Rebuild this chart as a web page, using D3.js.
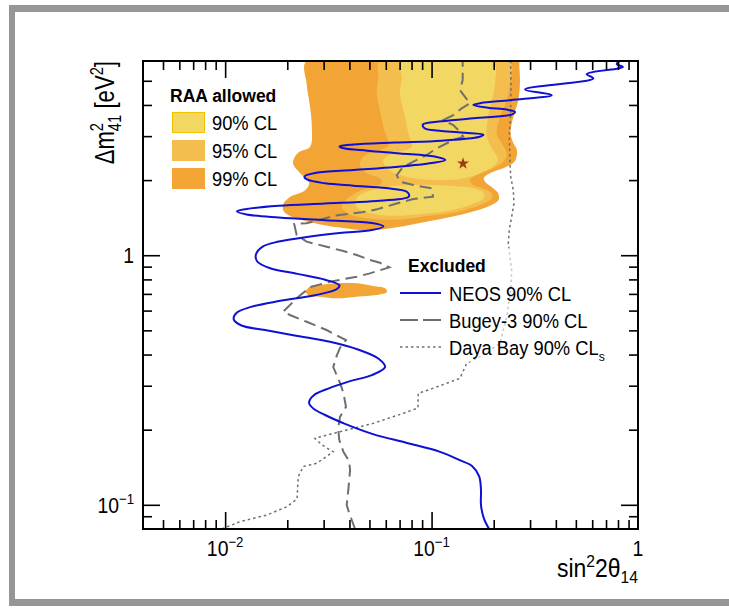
<!DOCTYPE html>
<html><head><meta charset="utf-8">
<script src="https://cdn.jsdelivr.net/npm/d3@7"></script>
<style>
html,body{margin:0;padding:0;background:#fff;}
svg{display:block;}
text{font-family:"Liberation Sans",Arial,Helvetica,sans-serif;fill:#000;}
</style></head><body>
<svg id="chart" width="729" height="610"></svg>
<script>
// ---------------- data (sin^2 2theta14, dm^2_41 [eV^2]) ----------------
const neos = [[0.190,0.080],[0.179,0.0885],[0.1735,0.0998],[0.1735,0.1146],[0.170,0.130],[0.157,0.143],[0.137,0.151],[0.110,0.163],[0.076,0.177],[0.052,0.192],[0.0381,0.211],[0.0305,0.229],[0.0266,0.244],[0.0255,0.2565],[0.0269,0.275],[0.0322,0.294],[0.0403,0.313],[0.0514,0.331],[0.0595,0.3565],[0.0556,0.384],[0.0440,0.419],[0.0322,0.450],[0.0224,0.475],[0.0156,0.5015],[0.0120,0.523],[0.0110,0.554],[0.0114,0.589],[0.01335,0.621],[0.0182,0.655],[0.0276,0.693],[0.0348,0.732],[0.0358,0.757],[0.0305,0.798],[0.0224,0.842],[0.0164,0.889],[0.0143,0.944],[0.0141,1.007],[0.0152,1.083],[0.0182,1.134],[0.0249,1.184],[0.0358,1.228],[0.0514,1.262],[0.0585,1.305],[0.0514,1.346],[0.0305,1.381],[0.0182,1.416],[0.0127,1.457],[0.0114,1.499],[0.0127,1.532],[0.0182,1.577],[0.0305,1.611],[0.0514,1.646],[0.0777,1.719],[0.0759,1.795],[0.0601,1.859],[0.0418,1.900],[0.0305,1.941],[0.0249,2.012],[0.0242,2.063],[0.0276,2.138],[0.0418,2.195],[0.0665,2.257],[0.1005,2.341],[0.1167,2.407],[0.1035,2.486],[0.0702,2.558],[0.0488,2.622],[0.0376,2.681],[0.0358,2.728],[0.0418,2.776],[0.0665,2.828],[0.1119,2.878],[0.1693,2.975],[0.1785,3.036],[0.1452,3.092],[0.1119,3.146],[0.0924,3.226],[0.0909,3.344],[0.1119,3.441],[0.1693,3.554],[0.2436,3.657],[0.2536,3.753],[0.2311,3.833],[0.1876,3.901],[0.1592,3.999],[0.1735,4.070],[0.2436,4.184],[0.382,4.381],[0.2836,4.617],[0.6075,5.109],[0.5643,5.316],[0.803,5.603],[0.846,5.677],[0.7885,5.836],[0.818,6.0]];

const bugey3 = [[0.0426,0.080],[0.0399,0.0927],[0.0388,0.0998],[0.0395,0.1146],[0.0403,0.138],[0.0398,0.150],[0.0374,0.163],[0.0357,0.182],[0.0353,0.203],[0.0360,0.225],[0.0385,0.247],[0.0374,0.281],[0.0360,0.308],[0.0334,0.3565],[0.0348,0.398],[0.0360,0.425],[0.0385,0.457],[0.0310,0.5015],[0.0248,0.5415],[0.0206,0.576],[0.0191,0.594],[0.0202,0.622],[0.0222,0.672],[0.0258,0.746],[0.0322,0.783],[0.0434,0.820],[0.0503,0.846],[0.0624,0.894],[0.0562,0.933],[0.0503,0.957],[0.0434,1.002],[0.0374,1.039],[0.0310,1.082],[0.0248,1.133],[0.0222,1.205],[0.0216,1.334],[0.0248,1.343],[0.0341,1.440],[0.0460,1.486],[0.0544,1.527],[0.0665,1.604],[0.0815,1.679],[0.1016,1.715],[0.1001,1.853],[0.0816,1.911],[0.0703,1.970],[0.0678,2.095],[0.0730,2.263],[0.0816,2.370],[0.0947,2.521],[0.1059,2.681],[0.1274,2.894],[0.1424,2.983],[0.1373,3.123],[0.1274,3.322],[0.1140,3.479],[0.1274,3.643],[0.1399,3.876],[0.1535,4.059],[0.1452,4.313],[0.1373,4.587],[0.1415,5.03],[0.1415,6.0]];

const dayaBay = [[0.00965,0.080],[0.0118,0.0856],[0.0159,0.0910],[0.0199,0.0982],[0.0223,0.1055],[0.0226,0.1296],[0.0239,0.1424],[0.0278,0.1467],[0.0334,0.1632],[0.0295,0.1736],[0.0272,0.1847],[0.0360,0.1963],[0.0522,0.212],[0.0730,0.2326],[0.0859,0.2443],[0.0862,0.2798],[0.0994,0.291],[0.1373,0.3212],[0.1480,0.369],[0.1780,0.398],[0.2145,0.444],[0.2311,0.567],[0.2417,0.725],[0.2444,0.872],[0.2398,0.986],[0.2353,1.117],[0.2379,1.262],[0.2444,1.427],[0.2508,1.614],[0.2488,1.825],[0.2417,2.063],[0.2398,2.335],[0.2379,2.983],[0.2412,3.587],[0.2425,4.587],[0.2417,6.0]];

const cl99 = [[0.0248,6.0],[0.0248,4.89],[0.0258,3.92],[0.0263,3.26],[0.0258,2.72],[0.0225,2.57],[0.0213,2.34],[0.0231,2.13],[0.0255,1.95],[0.0244,1.82],[0.0206,1.71],[0.0191,1.60],[0.0192,1.50],[0.0213,1.42],[0.0266,1.35],[0.0360,1.29],[0.0503,1.256],[0.0665,1.29],[0.0983,1.37],[0.142,1.46],[0.1856,1.56],[0.211,1.664],[0.210,1.775],[0.198,1.86],[0.1835,1.95],[0.179,2.04],[0.192,2.13],[0.231,2.26],[0.2536,2.385],[0.259,2.64],[0.2488,2.815],[0.2412,3.086],[0.2488,3.58],[0.263,4.18],[0.268,4.89],[0.266,5.68],[0.263,6.0]];

const cl99Island = [[0.0248,0.725],[0.0258,0.749],[0.0288,0.760],[0.0347,0.772],[0.0434,0.772],[0.0522,0.753],[0.0595,0.737],[0.0608,0.712],[0.0542,0.693],[0.0434,0.682],[0.0347,0.672],[0.0288,0.682],[0.0253,0.693],[0.0245,0.712]];

const cl95 = [[0.0562,6.0],[0.0552,5.17],[0.0542,4.46],[0.0562,3.815],[0.0584,3.26],[0.0617,2.76],[0.0562,2.64],[0.0467,2.48],[0.0450,2.30],[0.0485,2.13],[0.0562,2.03],[0.0575,1.95],[0.0460,1.825],[0.0389,1.68],[0.0368,1.56],[0.0403,1.46],[0.0514,1.40],[0.0703,1.39],[0.0912,1.43],[0.1323,1.49],[0.1716,1.59],[0.1955,1.69],[0.1955,1.77],[0.178,1.85],[0.159,1.91],[0.1535,2.00],[0.1654,2.095],[0.199,2.23],[0.2225,2.37],[0.231,2.56],[0.2186,2.81],[0.2067,3.08],[0.2145,3.59],[0.231,4.18],[0.2398,4.88],[0.2398,6.0]];

const cl90Upper = [[0.0703,6.0],[0.0717,5.17],[0.0703,4.46],[0.0744,3.58],[0.0771,3.09],[0.0801,2.72],[0.0653,2.56],[0.0584,2.41],[0.0606,2.23],[0.0703,2.095],[0.0879,2.02],[0.1188,2.00],[0.1452,2.04],[0.1716,2.13],[0.198,2.26],[0.210,2.41],[0.198,2.64],[0.1856,2.975],[0.1876,3.58],[0.203,4.89],[0.198,6.0]];

const cl90Lower = [[0.0665,1.90],[0.0514,1.825],[0.0435,1.70],[0.0430,1.575],[0.0481,1.49],[0.0629,1.44],[0.0879,1.46],[0.1228,1.51],[0.157,1.60],[0.179,1.695],[0.1775,1.79],[0.157,1.86],[0.1298,1.89],[0.0983,1.91]];

const bestFit = [[0.142, 2.33]];

const xMajorTicks = [0.01, 0.1, 1];
const xMinorTicks = [0.005,0.006,0.007,0.008,0.009,0.02,0.03,0.04,0.05,0.06,0.07,0.08,0.09,0.2,0.3,0.4,0.5,0.6,0.7,0.8,0.9];
const yMajorTicks = [0.1, 1];
const yMinorTicks = [0.09,0.2,0.3,0.4,0.5,0.6,0.7,0.8,0.9,2,3,4,5];
const xTickLabels = [["10","\u22122"],["10","\u22121"],["1",""]];
const yTickLabels = [["10","\u22121"],["1",""]];
const raaLabels = ["90% CL","95% CL","99% CL"];
const excludedLabels = [["NEOS 90% CL",""],["Bugey-3 90% CL",""],["Daya Bay 90% CL","s"]];

// ---------------- drawing ----------------
const W = 729, H = 610;
const C90 = "#f2d863", C95 = "#f3be4e", C99 = "#f2a534";
const svg = d3.select("#chart");
const x = d3.scaleLog().domain([0.004, 1]).range([143, 638]);
const y = d3.scaleLog().domain([0.08, 6]).range([529, 61]);

svg.append("rect").attr("width", W).attr("height", H).attr("fill", "#fff");
const border = svg.append("g").attr("fill", "#969696");
border.append("rect").attr("x", 9).attr("y", 5).attr("width", 720).attr("height", 7);
border.append("rect").attr("x", 9).attr("y", 5).attr("width", 6).attr("height", 601);
border.append("rect").attr("x", 9).attr("y", 599).attr("width", 720).attr("height", 7);

svg.append("clipPath").attr("id", "clip").append("rect")
  .attr("x", x.range()[0]).attr("y", y.range()[1])
  .attr("width", x.range()[1] - x.range()[0]).attr("height", y.range()[0] - y.range()[1]);
const plot = svg.append("g").attr("clip-path", "url(#clip)");

const area = d3.line().x(d => x(d[0])).y(d => y(d[1])).curve(d3.curveCatmullRomClosed.alpha(0.5));
const smooth = d3.line().x(d => x(d[0])).y(d => y(d[1])).curve(d3.curveCatmullRom.alpha(0.5));
const straight = d3.line().x(d => x(d[0])).y(d => y(d[1]));

plot.append("path").datum(cl99).attr("d", area).attr("fill", C99);
plot.append("path").datum(cl99Island).attr("d", area).attr("fill", C99);
plot.append("path").datum(cl95).attr("d", area).attr("fill", C95);
plot.append("path").datum(cl90Upper).attr("d", area).attr("fill", C90);
plot.append("path").datum(cl90Lower).attr("d", area).attr("fill", C90);

plot.selectAll(".star").data(bestFit).join("path")
  .attr("transform", d => `translate(${x(d[0])},${y(d[1])})`)
  .attr("d", d3.symbol(d3.symbolStar, 45)).attr("fill", "#9e3b16");

plot.append("path").datum(dayaBay).attr("d", straight).attr("fill", "none")
  .attr("stroke", "#6f6f6f").attr("stroke-width", 1.5).attr("stroke-dasharray", "2.5,3");
plot.append("path").datum(bugey3).attr("d", straight).attr("fill", "none")
  .attr("stroke", "#6f6f6f").attr("stroke-width", 2).attr("stroke-dasharray", "12,6");
plot.append("path").datum(neos).attr("d", smooth).attr("fill", "none")
  .attr("stroke", "#1010d4").attr("stroke-width", 2);

// legend veil (semi-transparent legend box)
svg.append("rect").attr("x", 393).attr("y", 248).attr("width", 228).attr("height", 114)
  .attr("fill", "#fff").attr("opacity", 0.62);

// axes ticks (inside, all four sides)
function ticks(axis, vals, len, tr) {
  svg.append("g").attr("transform", tr)
    .call(axis.tickValues(vals).tickSize(-len).tickFormat(""))
    .call(g => g.select(".domain").remove())
    .call(g => g.selectAll("line").attr("stroke", "#000").attr("stroke-width", 1.6));
}
ticks(d3.axisBottom(x), xMajorTicks.filter(v => v < 1), 17, "translate(0,529)");
ticks(d3.axisBottom(x), xMinorTicks, 9, "translate(0,529)");
ticks(d3.axisTop(x), xMajorTicks.filter(v => v < 1), 17, "translate(0,61)");
ticks(d3.axisTop(x), xMinorTicks, 9, "translate(0,61)");
ticks(d3.axisLeft(y), yMajorTicks, 17, "translate(143,0)");
ticks(d3.axisLeft(y), yMinorTicks, 9, "translate(143,0)");
ticks(d3.axisRight(y), yMajorTicks, 17, "translate(638,0)");
ticks(d3.axisRight(y), yMinorTicks, 9, "translate(638,0)");

svg.append("rect").attr("x", 143).attr("y", 61).attr("width", 495).attr("height", 468)
  .attr("fill", "none").attr("stroke", "#000").attr("stroke-width", 2);

// tick labels (slightly condensed, like the original Helvetica rendering)
xMajorTicks.forEach((v, i) => {
  const t = svg.append("text").attr("transform", `translate(${x(v)},556) scale(0.88,1)`)
    .attr("text-anchor", "middle").style("font-size", "22px");
  t.append("tspan").text(xTickLabels[i][0]);
  if (xTickLabels[i][1]) t.append("tspan").attr("dy", -9).style("font-size", "15px").text(xTickLabels[i][1]);
});
yMajorTicks.forEach((v, i) => {
  const t = svg.append("text").attr("transform", `translate(134,${y(v) + 8}) scale(0.88,1)`)
    .attr("text-anchor", "end").style("font-size", "22px");
  t.append("tspan").text(yTickLabels[i][0]);
  if (yTickLabels[i][1]) t.append("tspan").attr("dy", -9).style("font-size", "15px").text(yTickLabels[i][1]);
});

// axis titles
const xt = svg.append("text").attr("transform", "translate(638,577) scale(0.92,1)")
  .attr("text-anchor", "end").style("font-size", "25px");
xt.append("tspan").text("sin");
xt.append("tspan").attr("dy", -10).style("font-size", "17px").text("2");
xt.append("tspan").attr("dy", 10).text("2\u03b8");
xt.append("tspan").attr("dy", 6).style("font-size", "17px").text("14");

const yt = svg.append("text").attr("transform", "translate(114,61) rotate(-90) scale(0.82,1)")
  .attr("text-anchor", "end").style("font-size", "27px");
yt.append("tspan").text("\u0394m");
yt.append("tspan").attr("dy", -11).style("font-size", "18px").text("2");
yt.append("tspan").attr("dx", -10).attr("dy", 18).style("font-size", "18px").text("41");
yt.append("tspan").attr("dy", -7).text(" [eV");
yt.append("tspan").attr("dy", -11).style("font-size", "18px").text("2");
yt.append("tspan").attr("dy", 11).text("]");

// legend 1 : RAA allowed
svg.append("text").attr("x", 170).attr("y", 102).style("font-size", "17.5px").style("font-weight", "bold").text("RAA allowed");
const raaColors = [C90, C95, C99];
raaLabels.forEach((lab, i) => {
  svg.append("rect").attr("x", 172.5).attr("y", 112.5 + i * 28).attr("width", 32).attr("height", 20)
    .attr("fill", raaColors[i]).attr("stroke", i === 0 ? "#f2c400" : raaColors[i]).attr("stroke-width", 1);
  svg.append("text").attr("transform", `translate(212,${129.5 + i * 28}) scale(0.94,1)`)
    .style("font-size", "19.5px").text(lab);
});

// legend 2 : Excluded
svg.append("text").attr("x", 408).attr("y", 272).style("font-size", "17.5px").style("font-weight", "bold").text("Excluded");
const exStyles = [
  {c: "#1010d4", w: 2, d: null},
  {c: "#6f6f6f", w: 2, d: "18,5"},
  {c: "#6f6f6f", w: 1.5, d: "2.5,3"}
];
excludedLabels.forEach((lab, i) => {
  const yy = 293 + i * 27;
  const l = svg.append("line").attr("x1", 400).attr("x2", 441).attr("y1", yy).attr("y2", yy)
    .attr("stroke", exStyles[i].c).attr("stroke-width", exStyles[i].w);
  if (exStyles[i].d) l.attr("stroke-dasharray", exStyles[i].d);
  const t = svg.append("text").attr("transform", `translate(449,${yy + 7.5}) scale(0.94,1)`)
    .style("font-size", "19.5px");
  t.append("tspan").text(lab[0]);
  if (lab[1]) t.append("tspan").attr("dy", 6).style("font-size", "13px").text(lab[1]);
});
</script>
</body></html>
